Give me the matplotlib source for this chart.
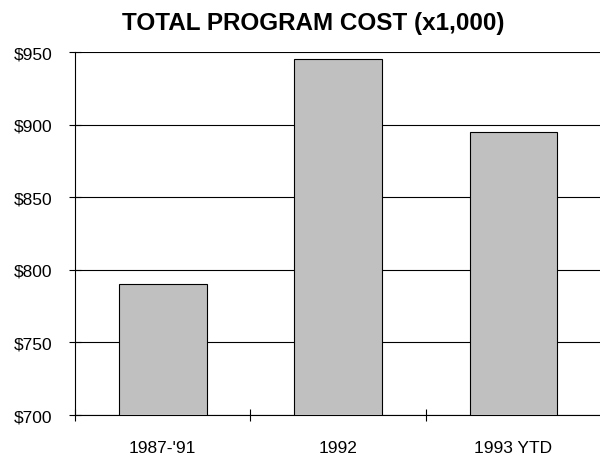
import matplotlib
matplotlib.use("Agg")
import matplotlib.pyplot as plt
import numpy as np

categories = ["1987-'91", "1992", "1993 YTD"]
costs = [790, 945, 895]
yticks = [700, 750, 800, 850, 900, 950]

plt.rcParams['font.family'] = ['Liberation Sans', 'DejaVu Sans']

fig = plt.figure(figsize=(6, 4.56), dpi=100)
ax = fig.add_axes([0.125, 40 / 456, 0.877, 363 / 456])

x = np.arange(len(categories)) + 0.5
ax.bar(x, costs, width=0.5, color='#c0c0c0', edgecolor='black', linewidth=0.8, zorder=3)

ax.set_xlim(0, 3)
ax.set_ylim(700, 950)
ax.set_yticks(yticks)
ax.set_yticklabels([f"${v}" for v in yticks], fontsize=12.5)
ax.yaxis.grid(True, color='black', linewidth=0.8, zorder=0)
ax.set_axisbelow(True)

ax.set_xticks([0, 1, 2, 3])
ax.set_xticklabels([])
ax.set_xticks(x, minor=True)
ax.set_xticklabels(categories, minor=True, fontsize=12.5)
ax.tick_params(axis='x', which='major', direction='inout', length=8, width=0.8)
ax.tick_params(axis='x', which='minor', length=0, pad=18)
ax.tick_params(axis='y', direction='inout', length=8, width=0.8, pad=12)

for s in ['top', 'right']:
    ax.spines[s].set_visible(False)
ax.spines['left'].set_linewidth(0.8)
ax.spines['bottom'].set_linewidth(0.8)

fig.text(313 / 600, 1 - 24 / 456, "TOTAL PROGRAM COST (x1,000)", ha='center', va='center',
         fontsize=17.5, fontweight='bold')

fig.savefig("out.png", dpi=100)
